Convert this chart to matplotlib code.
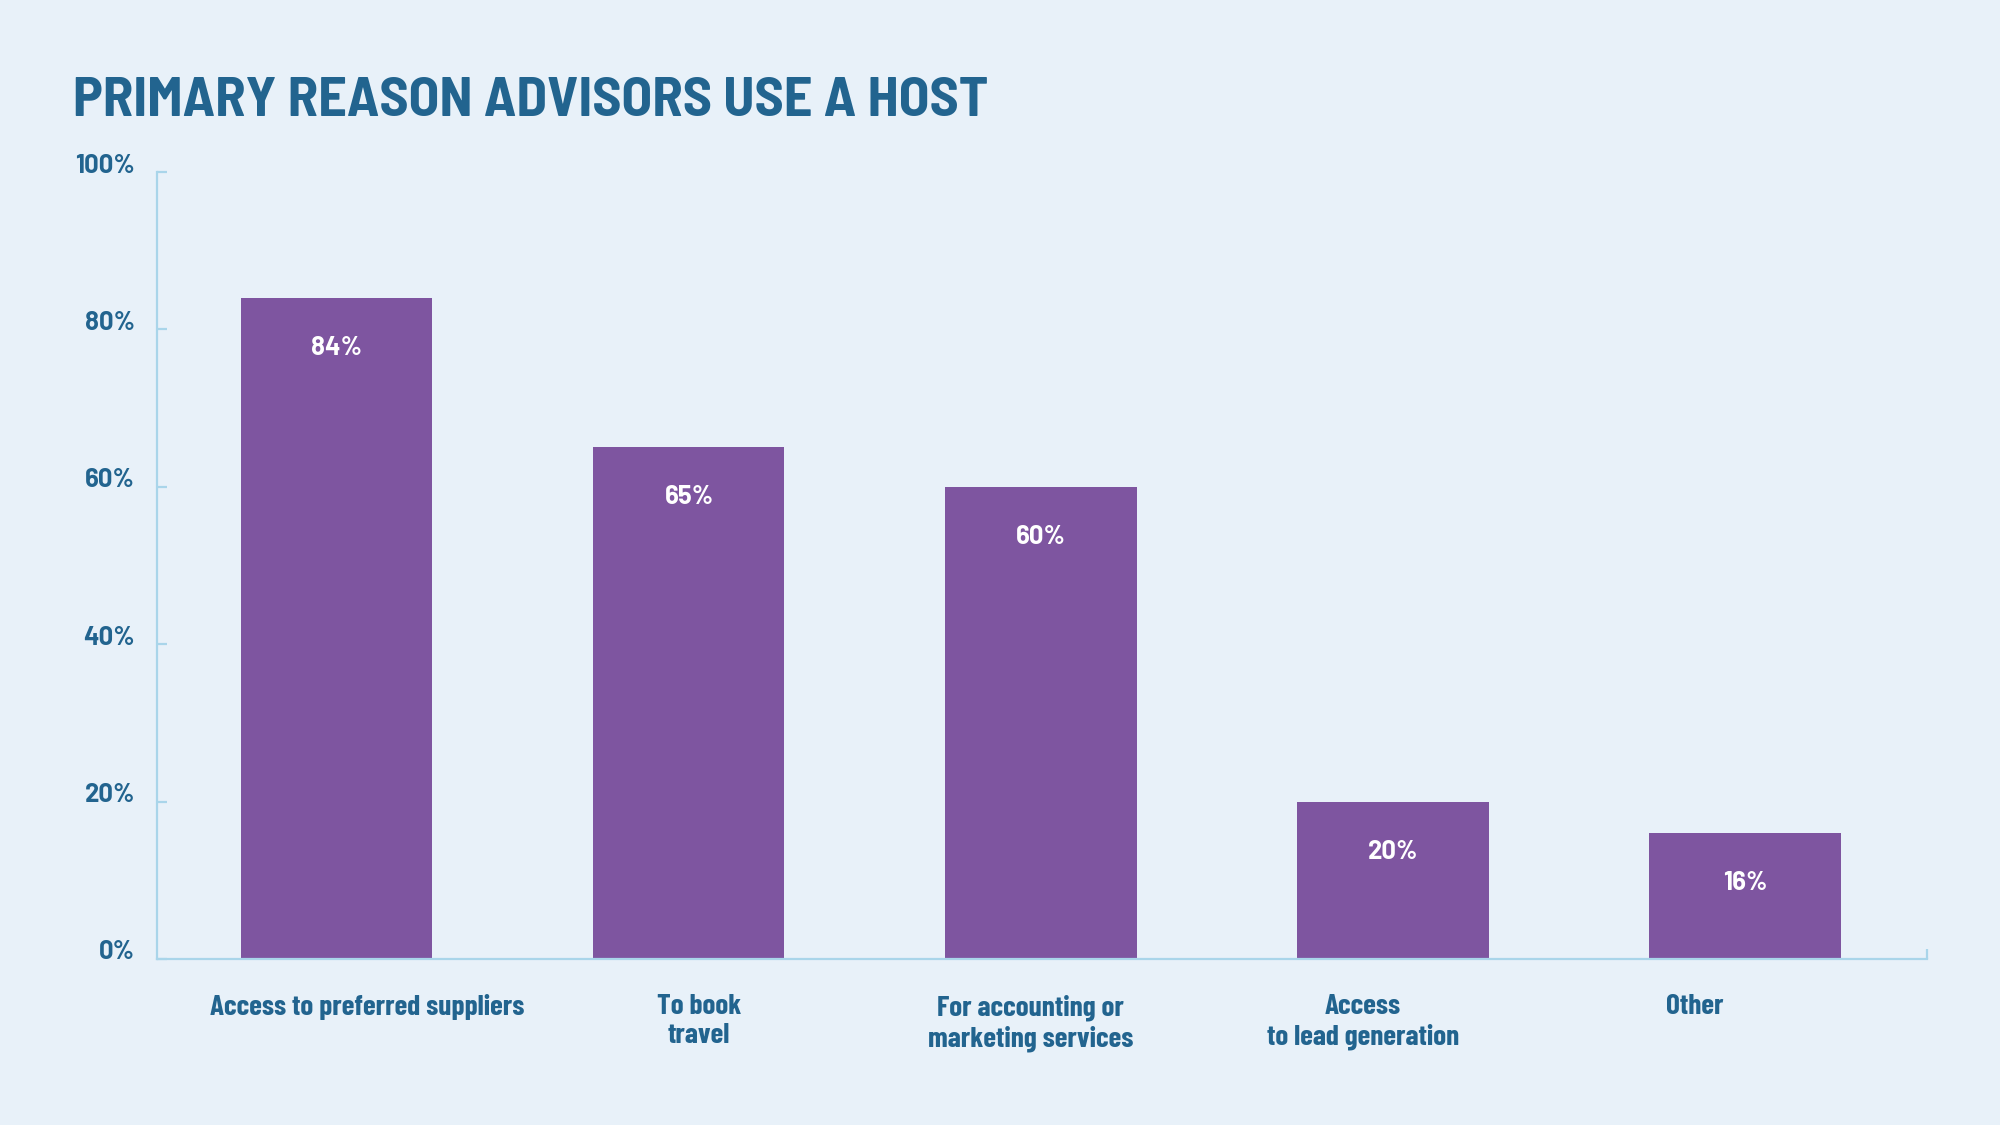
import matplotlib
matplotlib.use("Agg")
import matplotlib.pyplot as plt
import matplotlib.transforms as mtransforms
from matplotlib.ticker import FixedLocator
from matplotlib import font_manager as fm

categories = ["Access to preferred suppliers", "To book\ntravel",
              "For accounting or\nmarketing services", "Access\nto lead generation", "Other"]
values = [84, 65, 60, 20, 16]
value_labels = ["84%", "65%", "60%", "20%", "16%"]
yticks = [0, 20, 40, 60, 80, 100]
ytick_labels = ["0%", "20%", "40%", "60%", "80%", "100%"]
title = "PRIMARY REASON ADVISORS USE A HOST"

BG = "#E8F1F9"
BAR = "#7E55A0"
TXT = "#22648F"
SPINE = "#A9D5EA"

_avail = {f.name for f in fm.fontManager.ttflist}
def pick(*cands):
    for c in cands:
        if c in _avail:
            return [c, "DejaVu Sans"]
    return ["DejaVu Sans"]

COND = pick("Barlow Condensed", "Roboto Condensed", "Asap Condensed", "Archivo Narrow")
SEMI = pick("Barlow Semi Condensed", "Barlow Condensed", "Roboto Condensed")
NUM = pick("Barlow", "Barlow Semi Condensed", "Roboto")

fig = plt.figure(figsize=(20, 11.25), dpi=100, facecolor=BG)
ax = fig.add_axes([0.0785, 0.1476, 0.885, 0.6995])
ax.set_facecolor(BG)

x = list(range(len(categories)))
bars = ax.bar(x, values, width=0.543, color=BAR, zorder=2)
ax.set_xlim(-0.511, 4.517)
ax.set_ylim(0, 100)

for rect, lab in zip(bars, value_labels):
    ax.annotate(lab, xy=(rect.get_x() + rect.get_width() / 2, rect.get_height()),
                xytext=(0, -36), textcoords="offset points", ha="center", va="center",
                color="white", fontsize=18.5, fontweight="bold", family=NUM)

for s in ["top", "right"]:
    ax.spines[s].set_visible(False)
for s in ["left", "bottom"]:
    ax.spines[s].set_color(SPINE)
    ax.spines[s].set_linewidth(1.6)

ax.set_yticks(yticks)
ax.set_yticklabels(ytick_labels, family=NUM, fontweight="bold", fontsize=18.5, color=TXT)
ax.tick_params(axis="y", direction="in", length=7, width=1.6, color=SPINE, pad=16)
off = mtransforms.ScaledTranslation(0, 9 / 100, fig.dpi_scale_trans)
for lbl in ax.get_yticklabels():
    lbl.set_transform(lbl.get_transform() + off)

# category labels sit on a slightly tighter grid than the bars
label_pos = [0.085 + 0.943 * i for i in x]
ax.set_xticks(label_pos)
ax.set_xticklabels(categories, family=COND, fontweight="bold", fontsize=21, color=TXT,
                   linespacing=1.2)
ax.tick_params(axis="x", length=0, pad=25.5)
ax.xaxis.set_minor_locator(FixedLocator([4.517]))
ax.tick_params(axis="x", which="minor", direction="in", length=7, width=1.6, color=SPINE)

fig.text(0.0365, 0.8965, title, family=SEMI, fontweight="bold", fontsize=40.5,
         color=TXT, ha="left", va="baseline")

fig.savefig("out.png", dpi=100, facecolor=BG)
